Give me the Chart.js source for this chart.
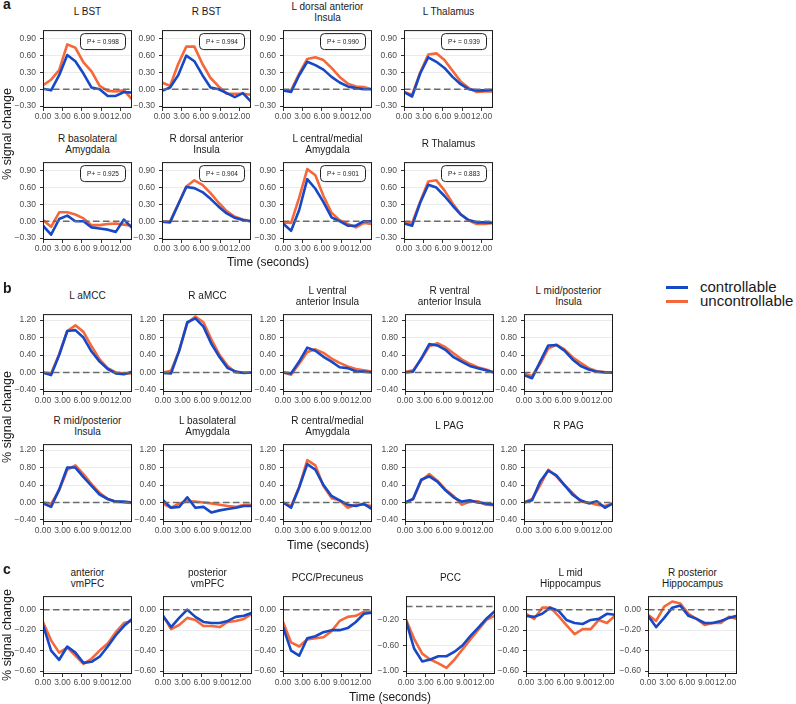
<!DOCTYPE html>
<html>
<head>
<meta charset="utf-8">
<script src="https://cdn.jsdelivr.net/npm/chart.js@4.4.0/dist/chart.umd.min.js"></script>
<style>
  body { margin: 0; background: #fff; width: 796px; height: 704px; position: relative; overflow: hidden;
         font-family: "Liberation Sans", Arial, Helvetica, sans-serif; color: #1a1a1a; }
  .plot { position: absolute; }
  .strip { position: absolute; display: flex; align-items: center; justify-content: center; text-align: center;
           font-size: 10px; line-height: 11px; white-space: pre-line; }
  .tag { position: absolute; font-size: 14px; line-height: 14px; font-weight: bold; }
  .ylab { position: absolute; width: 160px; height: 14px; line-height: 14px; font-size: 12.5px; text-align: center;
          transform: rotate(-90deg); white-space: nowrap; }
  .xlab { position: absolute; width: 140px; height: 14px; line-height: 14px; font-size: 12px; text-align: center; }
  .key { position: absolute; height: 3px; width: 22px; }
  .keytext { position: absolute; font-size: 15px; line-height: 16px; }
</style>
</head>
<body>
<script>
// time axis (seconds)
const timePoints = [0, 1.25, 2.5, 3.75, 5, 6.25, 7.5, 8.75, 10, 11.25, 12.5, 13.75];
const xTicks = [0, 3, 6, 9, 12];

// panel a
const regionsA = ['L BST', 'R BST', 'L dorsal anterior\nInsula', 'L Thalamus',
                  'R basolateral\nAmygdala', 'R dorsal anterior\nInsula', 'L central/medial\nAmygdala', 'R Thalamus'];
const pPlusA = ['0.998', '0.994', '0.990', '0.939', '0.925', '0.904', '0.901', '0.883'];
const yTicksA = [-0.3, 0, 0.3, 0.6, 0.9];
const controllableA = [
    [0.01, -0.02, 0.25, 0.61, 0.50, 0.28, 0.03, 0.00, -0.12, -0.12, -0.05, -0.06],
    [-0.03, 0.03, 0.25, 0.60, 0.50, 0.25, 0.03, 0.00, -0.07, -0.14, -0.07, -0.22],
    [-0.02, -0.05, 0.25, 0.49, 0.43, 0.35, 0.22, 0.12, 0.05, 0.02, 0.00, 0.00],
    [-0.05, -0.13, 0.28, 0.57, 0.49, 0.38, 0.22, 0.09, 0.00, -0.02, -0.02, -0.01],
    [-0.08, -0.24, 0.04, 0.10, 0.00, 0.00, -0.11, -0.13, -0.15, -0.19, 0.03, -0.12],
    [-0.01, -0.02, 0.30, 0.61, 0.59, 0.52, 0.40, 0.26, 0.14, 0.06, 0.02, 0.00],
    [-0.04, -0.17, 0.20, 0.75, 0.58, 0.34, 0.07, 0.00, -0.08, -0.08, 0.00, 0.00],
    [-0.04, -0.08, 0.33, 0.65, 0.60, 0.45, 0.28, 0.12, 0.02, -0.02, -0.02, -0.03]
];
const uncontrollableA = [
    [0.07, 0.17, 0.34, 0.80, 0.74, 0.48, 0.32, 0.06, -0.03, -0.04, -0.02, -0.18],
    [0.12, 0.06, 0.45, 0.76, 0.76, 0.45, 0.20, 0.05, -0.08, -0.08, -0.08, -0.10],
    [-0.02, -0.02, 0.28, 0.54, 0.57, 0.52, 0.38, 0.22, 0.10, 0.05, 0.04, 0.00],
    [-0.05, -0.10, 0.30, 0.62, 0.64, 0.52, 0.33, 0.14, 0.02, -0.05, -0.04, -0.04],
    [0.02, -0.10, 0.16, 0.16, 0.12, 0.05, -0.07, -0.07, -0.05, -0.04, -0.06, -0.08],
    [-0.01, 0.00, 0.30, 0.62, 0.73, 0.65, 0.50, 0.33, 0.18, 0.08, 0.03, 0.00],
    [-0.02, -0.03, 0.42, 0.93, 0.82, 0.45, 0.15, 0.02, -0.05, -0.11, -0.03, -0.05],
    [-0.02, -0.03, 0.35, 0.71, 0.73, 0.55, 0.32, 0.13, 0.01, -0.05, -0.05, -0.03]
];

// panel b
const regionsB = ['L aMCC', 'R aMCC', 'L ventral\nanterior Insula', 'R ventral\nanterior Insula', 'L mid/posterior\nInsula',
                  'R mid/posterior\nInsula', 'L basolateral\nAmygdala', 'R central/medial\nAmygdala', 'L PAG', 'R PAG'];
const yTicksB = [-0.4, 0, 0.4, 0.8, 1.2];
const controllableB = [
    [0.00, -0.06, 0.40, 0.95, 0.97, 0.80, 0.48, 0.25, 0.08, -0.02, -0.04, 0.02],
    [-0.01, -0.02, 0.50, 1.15, 1.24, 1.05, 0.65, 0.35, 0.10, 0.02, -0.01, 0.00],
    [0.00, -0.02, 0.25, 0.57, 0.50, 0.36, 0.25, 0.12, 0.10, 0.03, 0.02, 0.00],
    [0.00, 0.02, 0.32, 0.65, 0.62, 0.52, 0.35, 0.25, 0.15, 0.10, 0.05, 0.00],
    [-0.06, -0.13, 0.25, 0.62, 0.63, 0.50, 0.30, 0.15, 0.07, 0.02, 0.00, 0.00],
    [-0.02, -0.10, 0.30, 0.80, 0.80, 0.58, 0.38, 0.18, 0.08, 0.02, 0.02, 0.00],
    [0.05, -0.12, -0.10, 0.12, -0.12, -0.10, -0.23, -0.18, -0.15, -0.12, -0.08, -0.08],
    [0.00, -0.12, 0.35, 0.88, 0.75, 0.40, 0.15, 0.05, -0.05, -0.08, -0.03, -0.15],
    [0.00, 0.08, 0.52, 0.60, 0.48, 0.28, 0.12, 0.02, 0.05, 0.00, -0.02, -0.05],
    [0.00, 0.05, 0.48, 0.73, 0.62, 0.40, 0.18, 0.05, -0.02, 0.03, -0.12, -0.02]
];
const uncontrollableB = [
    [0.00, -0.02, 0.42, 0.95, 1.08, 0.93, 0.60, 0.30, 0.10, 0.00, -0.02, -0.02],
    [0.00, 0.04, 0.50, 1.13, 1.28, 1.15, 0.75, 0.40, 0.15, 0.00, 0.00, 0.00],
    [0.00, -0.05, 0.20, 0.47, 0.53, 0.45, 0.32, 0.22, 0.14, 0.08, 0.05, 0.02],
    [0.01, 0.05, 0.30, 0.60, 0.67, 0.58, 0.44, 0.30, 0.20, 0.12, 0.07, 0.00],
    [-0.02, -0.08, 0.20, 0.55, 0.64, 0.53, 0.35, 0.22, 0.10, 0.03, 0.01, 0.00],
    [0.00, -0.03, 0.28, 0.75, 0.85, 0.65, 0.42, 0.22, 0.08, 0.02, 0.00, -0.01],
    [-0.03, -0.12, -0.02, 0.03, 0.02, 0.00, -0.02, -0.05, -0.08, -0.10, -0.05, -0.05],
    [0.00, -0.08, 0.35, 0.97, 0.85, 0.38, 0.10, 0.05, -0.12, -0.05, -0.05, -0.08],
    [-0.02, 0.08, 0.50, 0.65, 0.50, 0.30, 0.15, -0.05, 0.02, 0.03, -0.05, -0.06],
    [0.00, 0.08, 0.40, 0.75, 0.60, 0.40, 0.22, 0.02, 0.00, -0.05, -0.08, -0.02]
];

// panel c
const regionsC = ['anterior\nvmPFC', 'posterior\nvmPFC', 'PCC/Precuneus', 'PCC', 'L mid\nHippocampus', 'R posterior\nHippocampus'];
const yTicksC = [-0.6, -0.4, -0.2, 0];
const yTicksPCC = [-1.0, -0.6, -0.2];
const controllableC = [
    [-0.15, -0.40, -0.49, -0.36, -0.42, -0.52, -0.51, -0.46, -0.36, -0.25, -0.16, -0.09],
    [-0.06, -0.17, -0.08, 0.00, -0.07, -0.12, -0.13, -0.13, -0.11, -0.07, -0.06, -0.03],
    [-0.17, -0.40, -0.45, -0.28, -0.26, -0.22, -0.20, -0.20, -0.18, -0.12, -0.04, -0.03],
    [-0.22, -0.65, -0.85, -0.82, -0.77, -0.77, -0.70, -0.60, -0.45, -0.32, -0.18, -0.07],
    [-0.06, -0.07, -0.04, 0.02, -0.01, -0.10, -0.13, -0.14, -0.10, -0.09, -0.04, -0.05],
    [-0.06, -0.17, -0.08, 0.02, 0.04, -0.06, -0.09, -0.13, -0.13, -0.11, -0.08, -0.06]
];
const uncontrollableC = [
    [-0.12, -0.30, -0.42, -0.37, -0.45, -0.53, -0.48, -0.40, -0.33, -0.22, -0.13, -0.11],
    [-0.06, -0.19, -0.15, -0.08, -0.10, -0.16, -0.16, -0.17, -0.12, -0.11, -0.09, -0.04],
    [-0.12, -0.32, -0.36, -0.29, -0.28, -0.27, -0.21, -0.11, -0.07, -0.06, -0.02, -0.02],
    [-0.20, -0.50, -0.73, -0.82, -0.88, -0.95, -0.82, -0.66, -0.50, -0.35, -0.20, -0.14],
    [-0.04, -0.09, 0.02, 0.02, -0.06, -0.15, -0.24, -0.19, -0.19, -0.10, -0.13, -0.06],
    [-0.05, -0.11, 0.03, 0.08, 0.06, -0.04, -0.09, -0.15, -0.13, -0.13, -0.07, -0.09]
];

const BLUE = '#1748c6';
const ORANGE = '#f5683a';
const Y_AXIS_W = 34, X_AXIS_H = 20, PAD_TOP = 8, PAD_RIGHT = 10;
const PLOT_W = 89, PLOT_H = 79;

// panel border + P+ box
const frameBox = {
    id: 'frameBox',
    afterDraw(chart, args, opts) {
        const { ctx, chartArea: a } = chart;
        ctx.save();
        ctx.strokeStyle = '#1a1a1a';
        ctx.lineWidth = 1;
        ctx.strokeRect(a.left + 0.5, a.top + 0.5, a.right - a.left - 1, a.bottom - a.top - 1);
        if (opts.label) {
            const w = 45, h = 16;
            const x = a.right - 7 - w, y = a.top + 3;
            ctx.beginPath();
            ctx.roundRect(x + 0.5, y + 0.5, w, h, 4);
            ctx.fillStyle = '#fff';
            ctx.fill();
            ctx.strokeStyle = '#222';
            ctx.stroke();
            ctx.fillStyle = '#1a1a1a';
            ctx.font = '6.5px "Liberation Sans", Arial, sans-serif';
            ctx.textAlign = 'center';
            ctx.textBaseline = 'middle';
            ctx.fillText(opts.label, x + w / 2 + 0.5, y + h / 2 + 1);
        }
        ctx.restore();
    }
};

function fmt(v) {
    const s = Math.abs(v).toFixed(2);
    return v < -1e-9 ? '\u2212' + s : s;
}

function addDiv(cls, text, style) {
    const d = document.createElement('div');
    d.className = cls;
    d.textContent = text;
    Object.assign(d.style, style);
    document.body.appendChild(d);
    return d;
}

function drawPlot(left, top, title, ctrl, unctrl, yTicks, yMin, yMax, label) {
    addDiv('strip', title, { left: (left - 15) + 'px', top: (top - 29) + 'px', width: (PLOT_W + 30) + 'px', height: '23px' });

    const wrap = document.createElement('div');
    wrap.className = 'plot';
    wrap.style.left = (left - Y_AXIS_W) + 'px';
    wrap.style.top = (top - PAD_TOP) + 'px';
    const canvas = document.createElement('canvas');
    canvas.width = Y_AXIS_W + PLOT_W + PAD_RIGHT;
    canvas.height = PAD_TOP + PLOT_H + X_AXIS_H;
    wrap.appendChild(canvas);
    document.body.appendChild(wrap);

    const tMax = timePoints[timePoints.length - 1];
    const toXY = vals => timePoints.map((t, i) => ({ x: t, y: vals[i] }));

    new Chart(canvas, {
        type: 'line',
        data: {
            datasets: [
                {
                    data: [{ x: 0, y: 0 }, { x: tMax, y: 0 }],
                    borderColor: '#6b6b6b', borderWidth: 1.5, borderDash: [6.5, 3.5],
                    pointRadius: 0, clip: 0
                },
                {
                    label: 'controllable', data: toXY(ctrl),
                    borderColor: BLUE, borderWidth: 2.6, pointRadius: 0, tension: 0,
                    borderJoinStyle: 'round', clip: 0
                },
                {
                    label: 'uncontrollable', data: toXY(unctrl),
                    borderColor: ORANGE, borderWidth: 2.6, pointRadius: 0, tension: 0,
                    borderJoinStyle: 'round', clip: 0
                }
            ]
        },
        options: {
            responsive: false,
            animation: false,
            events: [],
            layout: { padding: { top: PAD_TOP, right: PAD_RIGHT, left: 0, bottom: 0 } },
            plugins: {
                legend: { display: false },
                tooltip: { enabled: false },
                frameBox: { label: label }
            },
            scales: {
                x: {
                    type: 'linear',
                    min: 0,
                    max: tMax,
                    afterBuildTicks: axis => { axis.ticks = xTicks.map(v => ({ value: v })); },
                    afterFit: axis => { axis.height = X_AXIS_H; },
                    ticks: {
                        autoSkip: false, maxRotation: 0, minRotation: 0, padding: 1,
                        color: '#4d4d4d', font: { size: 8.5, family: '"Liberation Sans", Arial, sans-serif' },
                        callback: v => v.toFixed(2)
                    },
                    grid: { drawOnChartArea: false, drawTicks: true, tickLength: 3, tickColor: '#333', tickWidth: 1 },
                    border: { display: false }
                },
                y: {
                    min: yMin,
                    max: yMax,
                    afterBuildTicks: axis => { axis.ticks = yTicks.map(v => ({ value: v })); },
                    afterFit: axis => { axis.width = Y_AXIS_W; },
                    ticks: {
                        padding: 4,
                        color: '#4d4d4d', font: { size: 8.5, family: '"Liberation Sans", Arial, sans-serif' },
                        callback: v => fmt(v)
                    },
                    grid: { color: '#ebebeb', lineWidth: 1, drawTicks: true, tickLength: 3, tickColor: '#333', tickWidth: 1 },
                    border: { display: false }
                }
            }
        },
        plugins: [frameBox]
    });
}

// ----- panel a -----
const colsA = [43, 162, 283, 404];
const rowsA = [29, 161];
regionsA.forEach((name, i) => {
    drawPlot(colsA[i % 4], rowsA[Math.floor(i / 4)], name, controllableA[i], uncontrollableA[i],
        yTicksA, -0.335, 1.055, 'P+ = ' + pPlusA[i]);
});

// ----- panel b -----
const colsB = [43, 163, 283, 405, 524];
const rowsB = [313, 443];
regionsB.forEach((name, i) => {
    drawPlot(colsB[i % 5], rowsB[Math.floor(i / 5)], name, controllableB[i], uncontrollableB[i],
        yTicksB, -0.446, 1.337, null);
});

// ----- panel c -----
const colsC = [43, 163, 283, 406, 526, 648];
regionsC.forEach((name, i) => {
    const isPCC = name === 'PCC';
    drawPlot(colsC[i], 595, name, controllableC[i], uncontrollableC[i],
        isPCC ? yTicksPCC : yTicksC, isPCC ? -1.045 : -0.629, isPCC ? 0.162 : 0.133, null);
});

// panel letters
addDiv('tag', 'a', { left: '3px', top: '-3px' });
addDiv('tag', 'b', { left: '3px', top: '281px' });
addDiv('tag', 'c', { left: '3px', top: '562px' });

// axis titles
[[134, 268, 262], [417, 328, 545], [635, 390, 697]].forEach(([yc, xc, xy]) => {
    addDiv('ylab', '% signal change', { left: (7 - 80) + 'px', top: (yc - 7) + 'px' });
    addDiv('xlab', 'Time (seconds)', { left: (xc - 70) + 'px', top: (xy - 7) + 'px' });
});

// legend
addDiv('key', '', { left: '666px', top: '286px', background: BLUE });
addDiv('keytext', 'controllable', { left: '700px', top: '279px' });
addDiv('key', '', { left: '666px', top: '300px', background: ORANGE });
addDiv('keytext', 'uncontrollable', { left: '700px', top: '293px' });
</script>
</body>
</html>
